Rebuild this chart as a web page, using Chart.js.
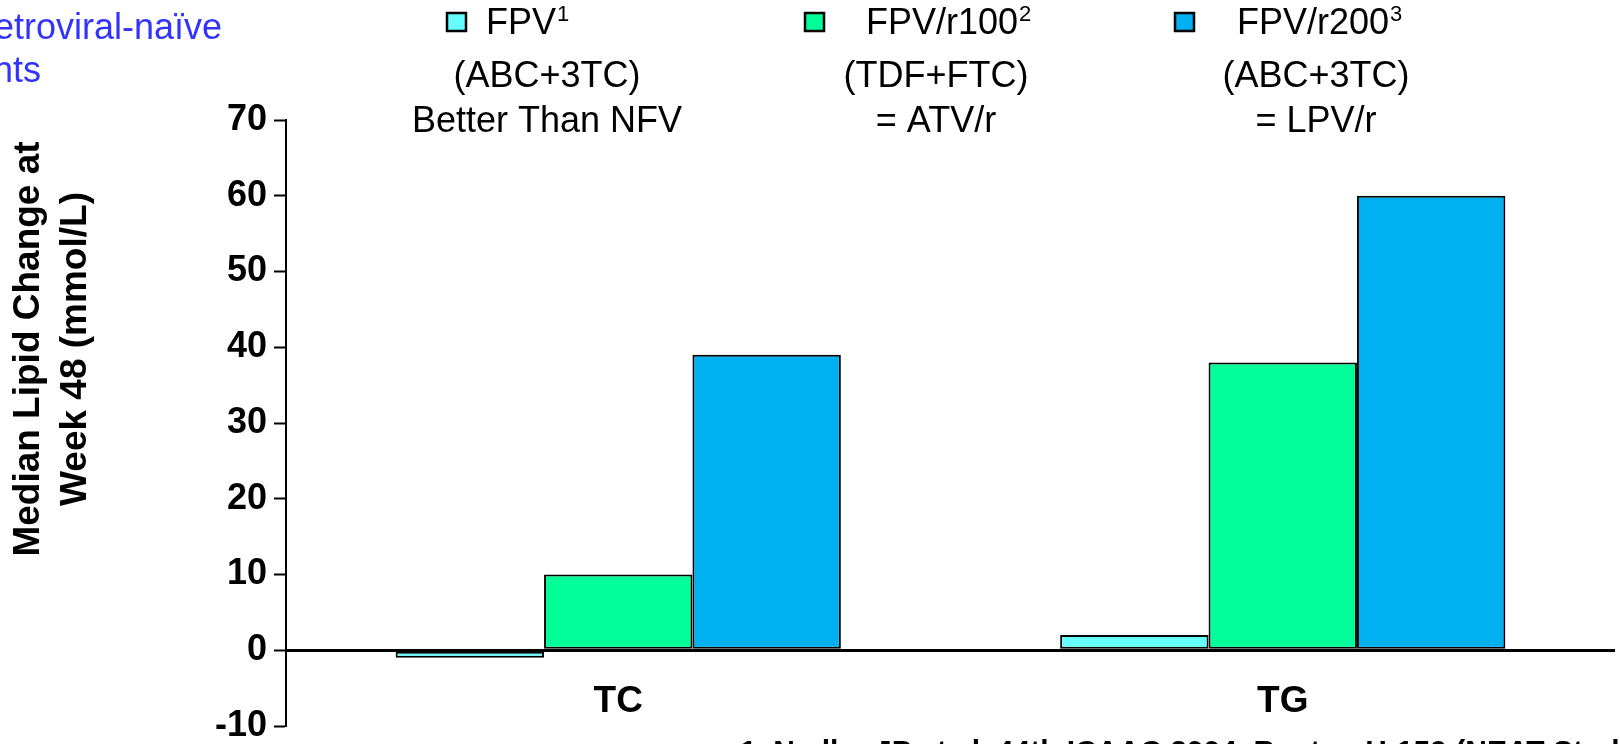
<!DOCTYPE html>
<html>
<head>
<meta charset="utf-8">
<script src="https://cdn.jsdelivr.net/npm/chart.js@4.4.1/dist/chart.umd.min.js"></script>
<style>
  html, body { margin: 0; padding: 0; background: #fff; }
  canvas { display: block; }
</style>
</head>
<body>
<canvas id="lipidChart" width="1620" height="744"></canvas>
<script>
// data
var categories   = ['TC', 'TG'];
var seriesNames  = ['FPV', 'FPV/r100', 'FPV/r200'];
var seriesRefs   = ['1', '2', '3'];
var seriesNotes  = [['(ABC+3TC)', 'Better Than NFV'], ['(TDF+FTC)', '= ATV/r'], ['(ABC+3TC)', '= LPV/r']];
var fpvValues    = [-1, 2];
var fpvR100Values = [10, 38];
var fpvR200Values = [39, 60];
var yTicksMin = -10, yTicksMax = 70, yStep = 10;
var seriesColors = ['#66FFFF', '#00FF99', '#00B0F0'];

var yTitle   = ['Median Lipid Change at', 'Week 48 (mmol/L)'];
var topNote  = ['Antiretroviral-naïve', 'patients'];
var footnote = '1. Nadler JP et al. 44th ICAAC 2004, Boston H-159 (NEAT Study)';

var FONT = '"Liberation Sans", Arial, sans-serif';

// text drawn around the plot: legend block, axis title, category names, notes
var slideText = {
  id: 'slideText',
  afterDraw: function(chart) {
    var ctx = chart.ctx;
    var xs = chart.scales.x;
    ctx.save();
    ctx.fillStyle = '#000';

    // legend columns
    var markerX = [447, 805, 1175];
    var labelX  = [486, 866, 1237];
    var noteX   = [547, 936, 1316];
    for (var i = 0; i < seriesNames.length; i++) {
      ctx.fillStyle = seriesColors[i];
      ctx.fillRect(markerX[i], 13, 19, 18);
      ctx.strokeStyle = '#000';
      ctx.lineWidth = 2.5;
      ctx.strokeRect(markerX[i], 13, 19, 18);

      ctx.fillStyle = '#000';
      ctx.textAlign = 'left';
      ctx.textBaseline = 'middle';
      ctx.font = '36px ' + FONT;
      ctx.fillText(seriesNames[i], labelX[i], 24);
      var w = ctx.measureText(seriesNames[i]).width;
      ctx.font = '22px ' + FONT;
      ctx.fillText(seriesRefs[i], labelX[i] + w + 1, 15);

      ctx.font = '36px ' + FONT;
      ctx.textAlign = 'center';
      ctx.fillText(seriesNotes[i][0], noteX[i], 77);
      ctx.fillText(seriesNotes[i][1], noteX[i], 122);
    }

    // blue note, cut at the left edge
    ctx.fillStyle = '#3333FF';
    ctx.font = '36px ' + FONT;
    ctx.textAlign = 'right';
    ctx.fillText(topNote[0], 222, 29);
    ctx.fillText(topNote[1], 41, 72);

    // y axis title
    ctx.fillStyle = '#000';
    ctx.font = 'bold 37px ' + FONT;
    ctx.textAlign = 'center';
    ctx.save();
    ctx.translate(29, 349);
    ctx.rotate(-Math.PI / 2);
    ctx.fillText(yTitle[0], 0, 0);
    ctx.fillText(yTitle[1], 0, 47);
    ctx.restore();

    // category names
    ctx.font = 'bold 37px ' + FONT;
    for (var c = 0; c < categories.length; c++) {
      ctx.fillText(categories[c], xs.getPixelForValue(c), 702);
    }

    // footnote, mostly below the frame
    ctx.font = 'bold 30px ' + FONT;
    ctx.textAlign = 'left';
    ctx.textBaseline = 'alphabetic';
    ctx.fillText(footnote, 740, 761);
    ctx.restore();
  }
};

var ctx = document.getElementById('lipidChart').getContext('2d');
new Chart(ctx, {
  type: 'bar',
  data: {
    labels: categories,
    datasets: [
      { label: seriesNames[0], data: fpvValues,     backgroundColor: seriesColors[0] },
      { label: seriesNames[1], data: fpvR100Values, backgroundColor: seriesColors[1] },
      { label: seriesNames[2], data: fpvR200Values, backgroundColor: seriesColors[2] }
    ]
  },
  options: {
    responsive: false,
    animation: false,
    layout: { padding: { left: 0, right: 5, top: 120, bottom: 18 } },
    datasets: {
      bar: {
        categoryPercentage: 0.67,
        barPercentage: 1.0,
        borderColor: '#000',
        borderWidth: 2,
        borderSkipped: false
      }
    },
    plugins: {
      legend: { display: false },
      tooltip: { enabled: false }
    },
    scales: {
      x: {
        display: false
      },
      y: {
        min: yTicksMin,
        max: yTicksMax,
        afterFit: function(scale) { scale.width = 286; },
        border: { display: true, color: '#000', width: 2 },
        grid: {
          drawOnChartArea: true,
          color: function(c) { return c.tick && c.tick.value === 0 ? '#000' : 'rgba(0,0,0,0)'; },
          lineWidth: function(c) { return c.tick && c.tick.value === 0 ? 3 : 1; },
          tickColor: '#000',
          tickWidth: 2,
          tickLength: 12
        },
        ticks: {
          stepSize: yStep,
          color: '#000',
          padding: 7,
          font: { family: FONT, size: 36, weight: 'bold', lineHeight: 0.3 }
        }
      }
    }
  },
  plugins: [slideText]
});
</script>
</body>
</html>
